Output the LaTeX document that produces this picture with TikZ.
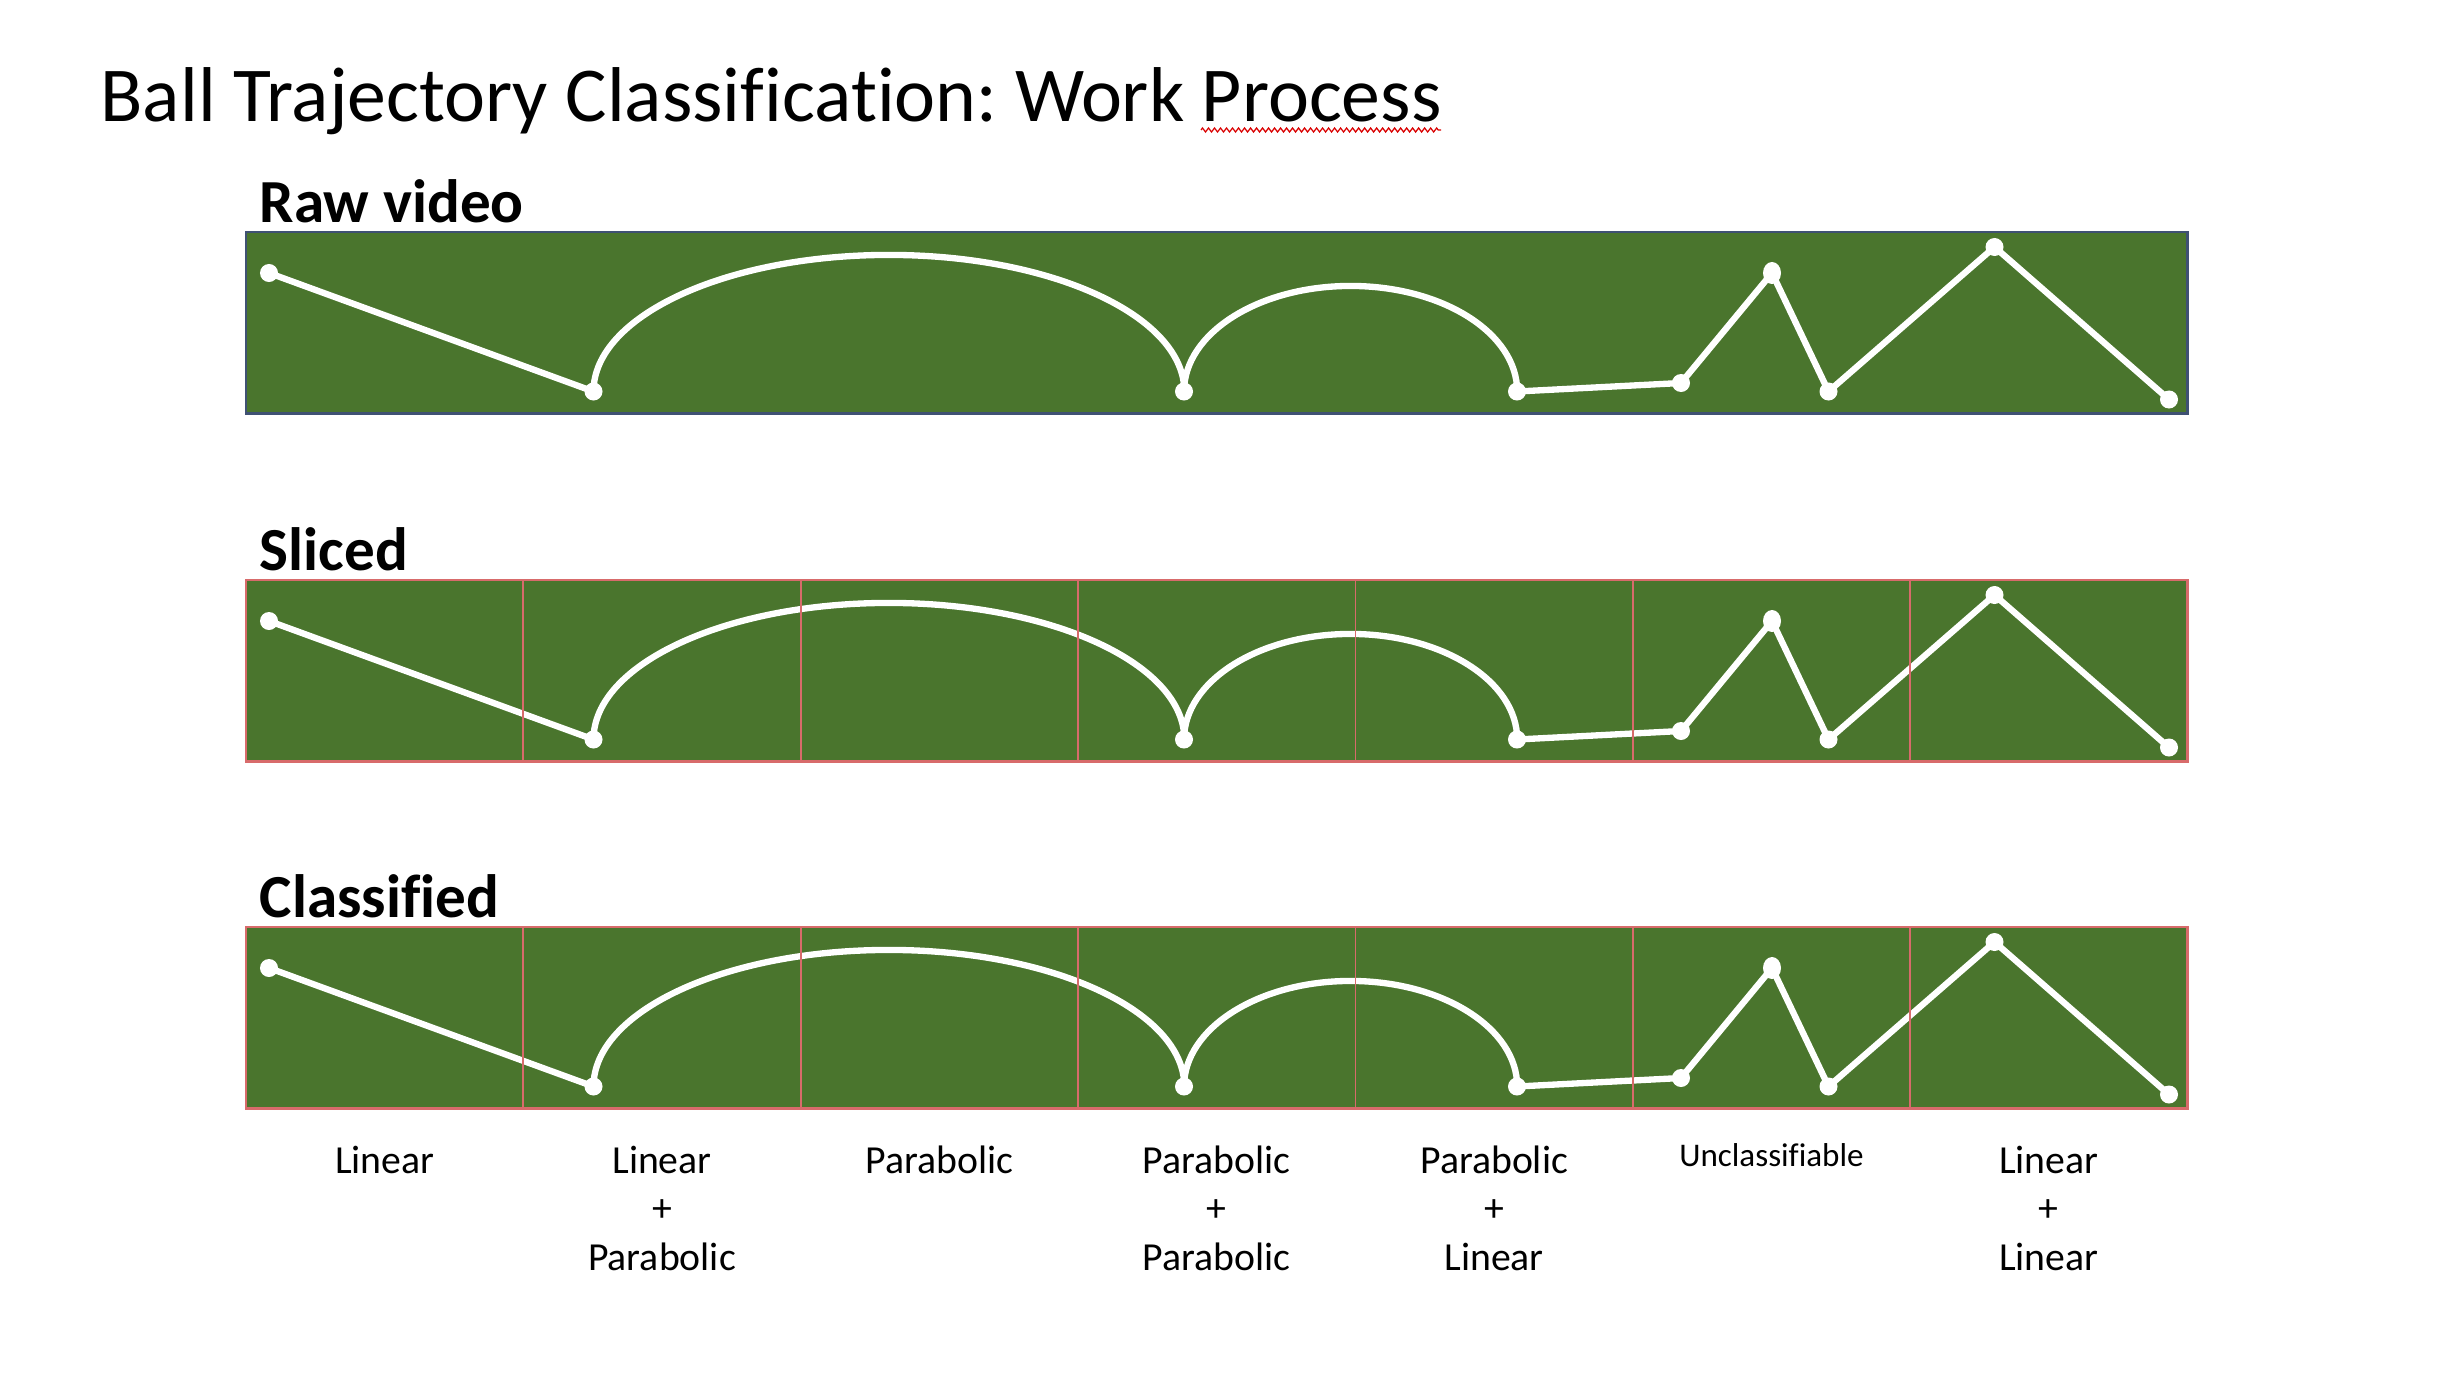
\documentclass[tikz,border=0pt]{standalone}
\usepackage{fontspec}
\setmainfont{Carlito}[Ligatures=NoCommon]
\frenchspacing
\usetikzlibrary{shapes.geometric,decorations.pathmorphing}
\definecolor{field}{HTML}{4A752D}
\definecolor{rawedge}{HTML}{3F5173}
\definecolor{sliceedge}{HTML}{D86B6B}
\tikzset{
  dot/.style={circle, fill=white, inner sep=0pt, minimum size=0.18cm},
  tdot/.style={ellipse, fill=white, inner sep=0pt, minimum width=0.18cm, minimum height=0.22cm},
  traj/.style={white, line width=1.8pt, line join=round},
  heading/.style={font=\bfseries\fontsize{17.4pt}{20pt}\selectfont, anchor=base west, inner sep=0pt},
  lbl/.style={font=\fontsize{11.3pt}{13.6pt}\selectfont, anchor=base, inner sep=0pt},
  smalllbl/.style={font=\fontsize{9.4pt}{11pt}\selectfont, anchor=base, inner sep=0pt},
}
% #1 prefix, #2 top y (px)
\newcommand{\trajpanel}[2]{%
  \fill[field] (246,#2) rectangle (2187.5,#2+181.6);
  \node[dot]  (#1a) at (269,#2+41) {};
  \node[dot]  (#1b) at (593.5,#2+159.5) {};
  \node[dot]  (#1c) at (1184,#2+159.5) {};
  \node[dot]  (#1d) at (1517,#2+159.5) {};
  \node[dot]  (#1e) at (1681,#2+151) {};
  \node[tdot] (#1f) at (1772,#2+41) {};
  \node[dot]  (#1g) at (1828.5,#2+159.5) {};
  \node[dot]  (#1h) at (1994.5,#2+15) {};
  \node[dot]  (#1i) at (2169,#2+167.5) {};
  \draw[traj] (#1a.center) -- (#1b.center);
  \draw[traj] (#1b.center) arc[start angle=180, end angle=0, x radius=2.9525cm, y radius=1.365cm];
  \draw[traj] (#1c.center) arc[start angle=180, end angle=0, x radius=1.665cm, y radius=1.055cm];
  \draw[traj] (#1d.center) -- (#1e.center) -- (#1f.center) -- (#1g.center) -- (#1h.center) -- (#1i.center);
}
\newcommand{\slicelines}[1]{%
  \foreach \k in {1,...,6}
    \draw[sliceedge, line width=0.5pt] (246+277.36*\k,#1) -- ++(0,181.6);
  \draw[sliceedge, line width=0.7pt] (246,#1) rectangle (2187.5,#1+181.6);
}
\begin{document}
\begin{tikzpicture}[x=0.01cm, y=-0.01cm]
\useasboundingbox (0,0) rectangle (2443,1373);
\fill[white] (0,0) rectangle (2443,1373);

\node[anchor=base west, inner sep=0pt, font=\fontsize{22.1pt}{26pt}\selectfont] (title) at (100,121.5) {Ball Trajectory Classification: Work Process};
\draw[red!85!black, line width=0.35pt, decoration={zigzag, amplitude=0.02cm, segment length=0.06cm}, decorate] (1201,130) -- (1441,130);

\node[heading] (hraw) at (259,222.5) {Raw video};
\node[heading] (hsliced) at (259,570.5) {Sliced};
\node[heading] (hclass) at (259,917.5) {Classified};

\trajpanel{r}{232}
\draw[rawedge, line width=0.7pt] (246,232) rectangle (2187.5,413.6);

\trajpanel{s}{580}
\slicelines{580}

\trajpanel{c}{927}
\slicelines{927}

% classification labels
\node[lbl] (l1a) at (384.7,1173) {Linear};
\node[lbl] (l2a) at (662,1173) {Linear};
\node[lbl] (l2b) at (662,1221.5) {+};
\node[lbl] (l2c) at (662,1270) {Parabolic};
\node[lbl] (l3a) at (939.4,1173) {Parabolic};
\node[lbl] (l4a) at (1216.8,1173) {Parabolic};
\node[lbl] (l4b) at (1216.8,1221.5) {+};
\node[lbl] (l4c) at (1216.8,1270) {Parabolic};
\node[lbl] (l5a) at (1494.1,1173) {Parabolic};
\node[lbl] (l5b) at (1494.1,1221.5) {+};
\node[lbl] (l5c) at (1494.1,1270) {Linear};
\node[smalllbl] (l6a) at (1771.5,1166) {Unclassifiable};
\node[lbl] (l7a) at (2048.8,1173) {Linear};
\node[lbl] (l7b) at (2048.8,1221.5) {+};
\node[lbl] (l7c) at (2048.8,1270) {Linear};
\end{tikzpicture}
\end{document}
